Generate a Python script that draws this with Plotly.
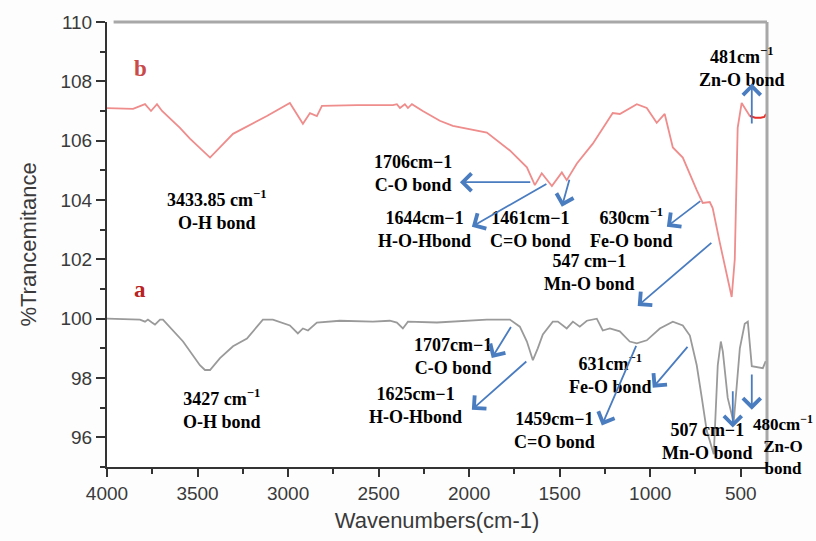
import plotly.graph_objects as go

# FTIR spectrum (b): wavenumber (cm-1) vs % transmittance
wn_b = [4000, 3856, 3790, 3757, 3724, 3696, 3597, 3542, 3431, 3304, 3117, 2990,
        2918, 2879, 2841, 2813, 2620, 2421, 2399, 2382, 2355, 2338, 2316, 2256,
        2162, 2090, 1902, 1775, 1681, 1637, 1599, 1543, 1488, 1461, 1405, 1317,
        1207, 1168, 1074, 1019, 964, 920, 875, 820, 743, 710, 671, 655, 616,
        577, 550, 533, 517, 495, 467, 450]
tr_b = [107.1, 107.07, 107.23, 107.0, 107.23, 107.0, 106.43, 106.07, 105.43,
        106.23, 106.83, 107.27, 106.57, 106.93, 106.83, 107.17, 107.2, 107.2,
        107.23, 107.1, 107.23, 107.1, 107.23, 107.0, 106.67, 106.5, 106.27,
        105.67, 105.1, 104.5, 104.9, 104.47, 104.93, 104.67, 105.23, 105.9,
        106.93, 106.9, 107.23, 107.1, 106.6, 106.9, 105.77, 105.43, 104.33,
        103.9, 103.93, 103.73, 102.57, 101.43, 100.73, 102.0, 106.43, 107.27,
        107.0, 106.83]
# tail of spectrum (b) drawn in a stronger red
wn_b_tail = [450, 420, 390, 370, 360]
tr_b_tail = [106.83, 106.77, 106.77, 106.8, 106.9]

# FTIR spectrum (a)
wn_a = [4000, 3818, 3790, 3774, 3752, 3735, 3707, 3691, 3580, 3487, 3459, 3431,
        3376, 3304, 3227, 3139, 3084, 2990, 2946, 2918, 2890, 2841, 2714, 2532,
        2438, 2399, 2366, 2338, 2178, 1902, 1775, 1720, 1681, 1648, 1621, 1593,
        1538, 1510, 1461, 1427, 1389, 1350, 1295, 1262, 1223, 1168, 1113, 1074,
        1019, 947, 875, 820, 781, 743, 715, 688, 649, 627, 610, 599, 572, 539,
        505, 478, 461, 439, 378, 362]
tr_a = [100.0, 99.97, 99.9, 99.97, 99.87, 99.8, 99.97, 99.97, 99.23, 98.43,
        98.27, 98.27, 98.67, 99.07, 99.33, 99.97, 99.97, 99.77, 99.5, 99.67,
        99.6, 99.87, 99.93, 99.9, 99.93, 99.87, 99.67, 99.9, 99.87, 99.97,
        99.97, 99.73, 99.23, 98.6, 99.0, 99.47, 99.9, 99.9, 99.67, 99.9, 99.73,
        99.93, 100.0, 99.6, 99.67, 99.57, 99.23, 99.17, 99.27, 99.67, 99.9,
        99.77, 99.43, 98.43, 97.33, 96.23, 95.43, 98.43, 99.23, 98.9, 97.33,
        96.5, 99.0, 99.83, 99.9, 98.4, 98.33, 98.57]

x_ticks = [4000, 3500, 3000, 2500, 2000, 1500, 1000, 500]
y_ticks = [96, 98, 100, 102, 104, 106, 108, 110]

# band labels: (text, wavenumber, transmittance) of the label centre
labels = [
    ("3433.85 cm<sup>−1</sup><br>O-H bond", 3398, 103.67),
    ("3427 cm<sup>−1</sup><br>O-H bond", 3365, 96.97),
    ("1706cm−1<br>C-O bond", 2311, 104.9),
    ("1644cm−1<br>H-O-Hbond", 2244, 103.0),
    ("1461cm−1<br>C=O bond", 1659, 103.02),
    ("630cm<sup>−1</sup><br>Fe-O bond", 1102, 103.07),
    ("547 cm−1<br>Mn-O bond", 1334, 101.57),
    ("481cm<sup>−1</sup><br>Zn-O bond", 494, 108.48),
    ("1707cm−1<br>C-O bond", 2090, 98.73),
    ("1625cm−1<br>H-O-Hbond", 2294, 97.08),
    ("1459cm−1<br>C=O bond", 1527, 96.23),
    ("631cm<sup>−1</sup><br>Fe-O bond", 1218, 98.15),
    ("507 cm−1<br>Mn-O bond", 682, 95.87),
]
# pointer arrows: (tail wn, tail T, head wn, head T)
arrows = [
    (1654, 104.6, 2051, 104.6),
    (1565, 104.57, 1985, 103.1),
    (1444, 104.73, 1488, 103.77),
    (715, 104.0, 908, 103.1),
    (654, 102.6, 1069, 100.43),
    (439, 106.53, 439, 107.93),
    (1764, 99.77, 1875, 98.67),
    (1676, 98.6, 1985, 96.93),
    (1074, 99.13, 1267, 96.4),
    (787, 99.1, 986, 97.67),
    (544, 97.6, 544, 96.33),
    (439, 98.17, 439, 96.93),
]

fig = go.Figure()
fig.add_trace(go.Scatter(x=wn_b, y=tr_b, mode="lines",
                         line=dict(color="#ef8c8c", width=1.8), showlegend=False))
fig.add_trace(go.Scatter(x=wn_b_tail, y=tr_b_tail, mode="lines",
                         line=dict(color="#e8302a", width=2), showlegend=False))
fig.add_trace(go.Scatter(x=wn_a, y=tr_a, mode="lines",
                         line=dict(color="#9a9a9a", width=1.8), showlegend=False))

serif = "Liberation Serif, Times New Roman, serif"
label_font = dict(family=serif, size=18, color="black", weight="bold")
ann = []
for text, x, y in labels:
    ann.append(dict(x=x, y=y, xref="x", yref="y", text=text, showarrow=False,
                    font=label_font, xanchor="center", yanchor="middle"))
# label beside the right frame
ann.append(dict(x=1.024, y=0.05, xref="paper", yref="paper",
                text="480cm<sup>−1</sup><br>Zn-O<br>bond", showarrow=False,
                font=dict(label_font, size=17), xanchor="center", yanchor="middle"))
for tx, ty, hx, hy in arrows:
    ann.append(dict(x=hx, y=hy, ax=tx, ay=ty, xref="x", yref="y",
                    axref="x", ayref="y", text="", showarrow=True,
                    arrowhead=4, arrowsize=1.9, arrowwidth=1.8,
                    arrowcolor="#4a7cc0", standoff=0, startstandoff=0))
for txt, px, py, col in [("b", 0.05, 0.895, "#c84a4a"), ("a", 0.05, 0.40, "#b82222")]:
    ann.append(dict(x=px, y=py, xref="paper", yref="paper", text=txt,
                    showarrow=False,
                    font=dict(family=serif, size=23, color=col, weight="bold"),
                    xanchor="center", yanchor="middle"))

fig.update_layout(
    width=816, height=541,
    margin=dict(l=107, r=49, t=20, b=71),
    paper_bgcolor="#fdfdfd", plot_bgcolor="white",
    font=dict(family="Liberation Sans, Arial, sans-serif", color="#3a3a3a"),
    annotations=ann,
    shapes=[
        dict(type="line", xref="paper", yref="paper", x0=0.01, x1=1, y0=1, y1=1,
             line=dict(color="#a8a8a8", width=3)),
        dict(type="line", xref="paper", yref="paper", x0=1, x1=1, y0=0, y1=1,
             line=dict(color="#a8a8a8", width=3)),
    ],
)
fig.update_xaxes(
    range=[4000, 355], tickvals=x_ticks, ticks="outside", ticklen=8, tickwidth=2,
    tickcolor="#333", showline=True, linecolor="#333", linewidth=2,
    showgrid=False, zeroline=False, tickfont=dict(size=19, color="#3a3a3a"),
    minor=dict(ticks="outside", ticklen=5, tickwidth=2, tickcolor="#333",
               tick0=0, dtick=250, showgrid=False),
    title=dict(text="Wavenumbers(cm-1)", font=dict(size=22, color="#3a3a3a"), standoff=10),
)
fig.update_yaxes(
    range=[95, 110], tickvals=y_ticks, ticks="outside", ticklen=9, tickwidth=2,
    tickcolor="#333", showline=True, linecolor="#333", linewidth=2,
    showgrid=False, zeroline=False, tickfont=dict(size=19, color="#3a3a3a"),
    minor=dict(ticks="outside", ticklen=5, tickwidth=2, tickcolor="#333",
               dtick=1, showgrid=False),
    title=dict(text="%Trancemitance", font=dict(size=22, color="#3a3a3a"), standoff=18),
)

fig.write_html("out.html")
